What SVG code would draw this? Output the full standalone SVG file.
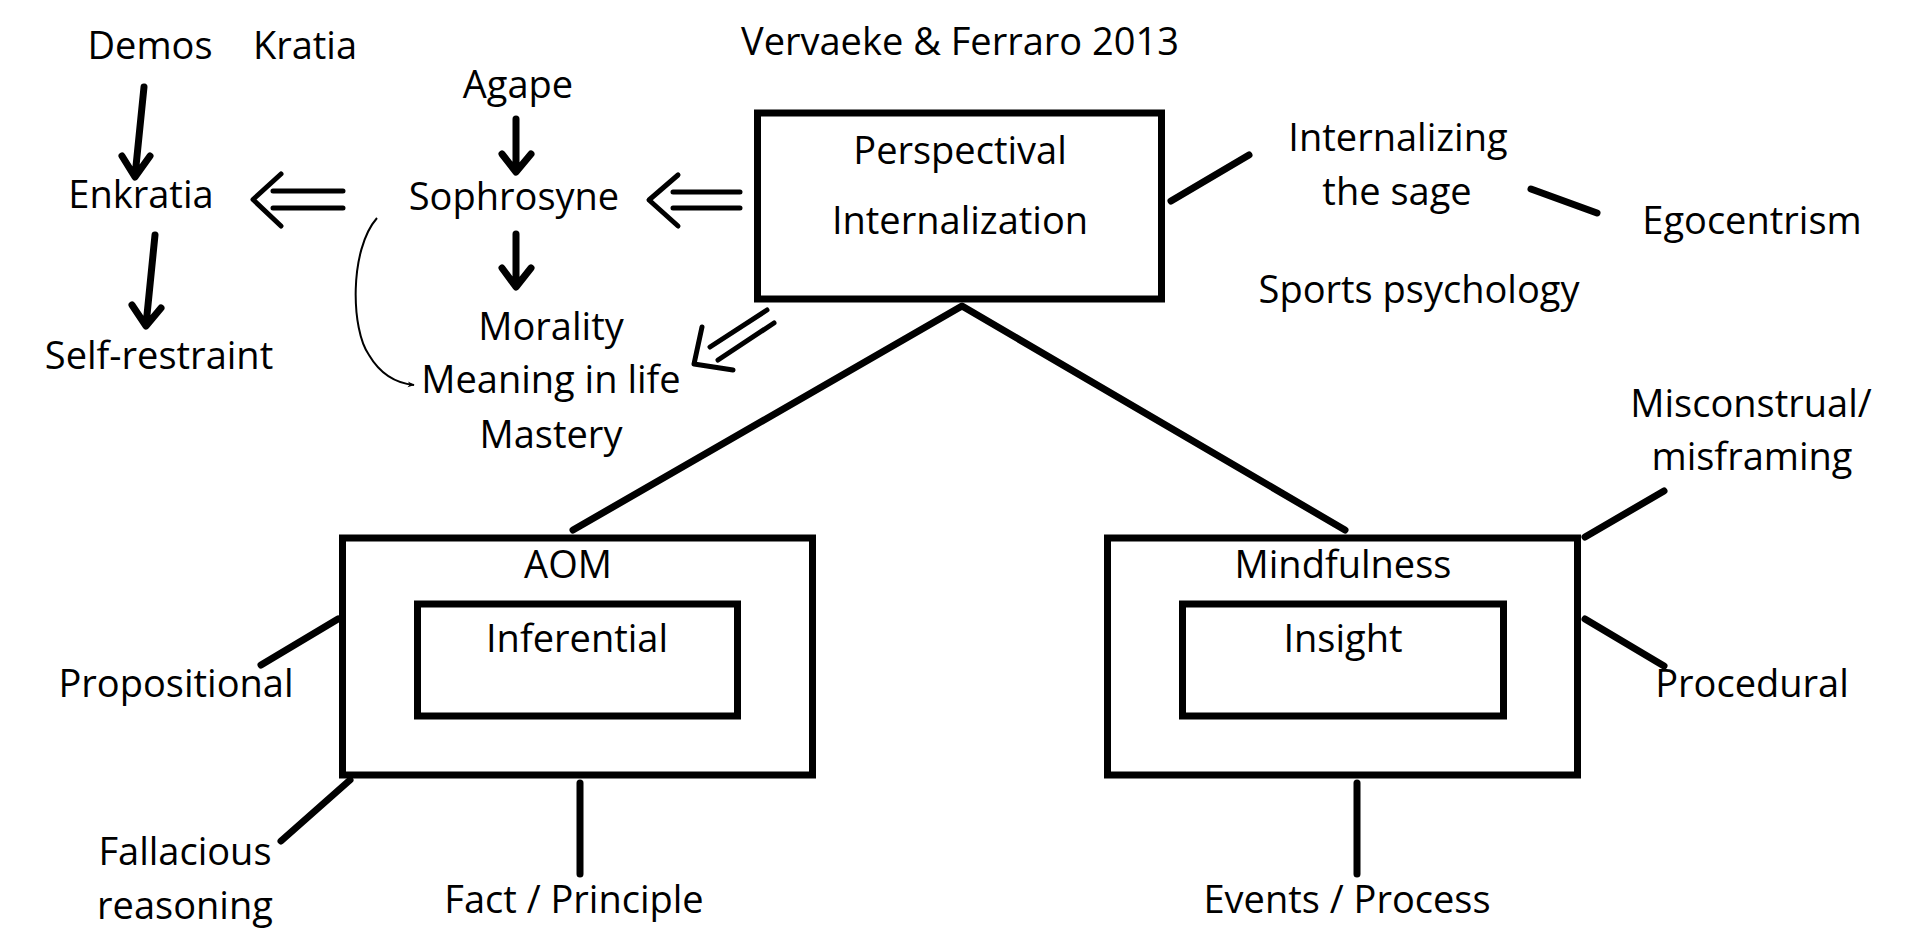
<svg xmlns="http://www.w3.org/2000/svg" width="1920" height="952" viewBox="0 0 1920 952">
<style>
text{font-family:"Open Sans","Noto Sans","Liberation Sans",sans-serif;font-size:38px;fill:#000;text-anchor:middle}
.box{fill:none;stroke:#000;stroke-width:7}
.thick{fill:none;stroke:#000;stroke-width:7;stroke-linecap:round;stroke-linejoin:round}
.dbl{fill:none;stroke:#000;stroke-width:5;stroke-linecap:round;stroke-linejoin:round}
.thin{fill:none;stroke:#000;stroke-width:2}
</style>
<defs>
<marker id="ah" viewBox="0 0 10 10" refX="9" refY="5" markerWidth="7" markerHeight="7" orient="auto" markerUnits="userSpaceOnUse">
<path d="M0,1 L10,5 L0,9 L3,5 Z" fill="#000"/>
</marker>
</defs>
<rect width="1920" height="952" fill="#fff"/>
<g id="title"><text x="960" y="55">Vervaeke &amp; Ferraro 2013</text></g>
<g id="demos"><text x="150" y="59">Demos</text></g>
<g id="kratia"><text x="305" y="59">Kratia</text></g>
<g id="enkratia"><text x="141" y="208">Enkratia</text></g>
<g id="self-restraint"><text x="159" y="369">Self-restraint</text></g>
<g id="agape"><text x="518" y="98">Agape</text></g>
<g id="sophrosyne"><text x="514" y="210">Sophrosyne</text></g>
<g id="morality"><text x="551" y="340">Morality</text><text x="551" y="393">Meaning in life</text><text x="551" y="448">Mastery</text></g>
<g id="perspectival">
<rect class="box" x="757.5" y="113" width="404" height="186"/>
<text x="960" y="164">Perspectival</text>
<text x="960" y="234">Internalization</text>
</g>
<g id="sage"><text x="1398" y="151">Internalizing</text><text x="1397" y="205">the sage</text></g>
<g id="egocentrism"><text x="1752" y="234">Egocentrism</text></g>
<g id="sports"><text x="1419" y="303">Sports psychology</text></g>
<g id="misconstrual"><text x="1751" y="417">Misconstrual/</text><text x="1752" y="470">misframing</text></g>
<g id="aom">
<rect class="box" x="342.5" y="538" width="470" height="237"/>
<text x="568" y="578">AOM</text>
<rect class="box" x="417.5" y="604" width="320" height="112"/>
<text x="577" y="652">Inferential</text>
</g>
<g id="mindfulness">
<rect class="box" x="1107.5" y="538" width="470" height="237"/>
<text x="1343" y="578">Mindfulness</text>
<rect class="box" x="1182.5" y="604" width="321" height="112"/>
<text x="1343" y="652">Insight</text>
</g>
<g id="propositional"><text x="176" y="697">Propositional</text></g>
<g id="procedural"><text x="1752" y="697">Procedural</text></g>
<g id="fallacious"><text x="185" y="865">Fallacious</text><text x="185" y="919">reasoning</text></g>
<g id="fact"><text x="574" y="913">Fact / Principle</text></g>
<g id="events"><text x="1347" y="913">Events / Process</text></g>
<g id="connectors">
<path class="thick" d="M144,87 L135,176 M122,156 L135,177 L150,156"/>
<path class="thick" d="M155,235 L146,325 M132,305 L146,326 L161,308"/>
<path class="thick" d="M516,119 L516,171 M502,154 L516,172 L531,154"/>
<path class="thick" d="M516,234 L516,286 M502,268 L516,287 L531,268"/>
<path class="dbl" d="M273,191 L343,191 M273,208 L343,208 M281,174 L253,199.5 L281,226"/>
<path class="dbl" d="M673,192 L740,192 M673,208 L740,208 M678,175 L649,200 L678,226"/>
<path class="dbl" d="M767,310 L710,347 M774,323 L718,360 M702,327 L694,364 L733,370"/>
<path class="thin" d="M377,218 C349,250 351,330 369,355 C379,372 394,383 414,385" marker-end="url(#ah)"/>
<path class="thick" d="M1171,201 L1249,155"/>
<path class="thick" d="M1531,189 L1597,213"/>
<path class="thick" d="M573,530 L962,306 L1345,530"/>
<path class="thick" d="M338,619 L261,665"/>
<path class="thick" d="M350,780 L281,841"/>
<path class="thick" d="M580,783 L580,874"/>
<path class="thick" d="M1585,537 L1664,491"/>
<path class="thick" d="M1585,619 L1664,666"/>
<path class="thick" d="M1357,783 L1357,874"/>
</g>
</svg>
